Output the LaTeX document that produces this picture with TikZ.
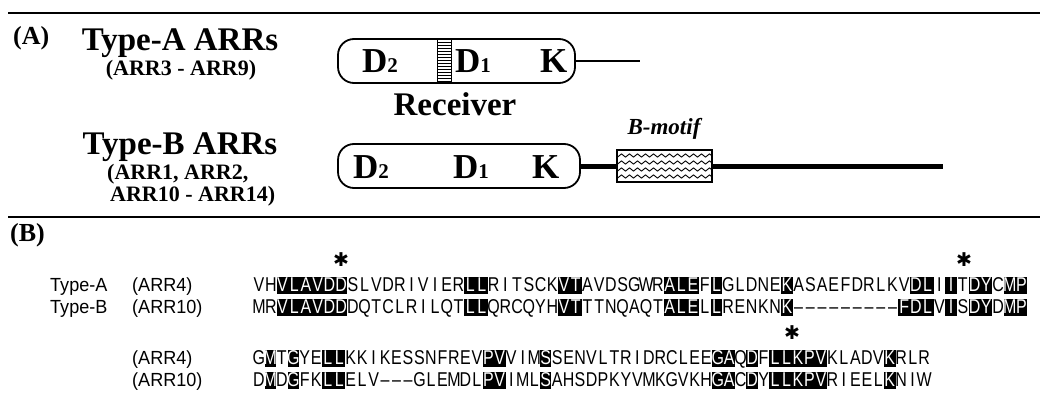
\documentclass[tikz,border=0pt]{standalone}
\usepackage{fontspec}
\setmainfont{Liberation Serif}
\newfontfamily\seqfont{Liberation Sans}[FakeStretch=0.8]
\newfontfamily\labfont{Liberation Sans}[FakeStretch=0.95]
\newfontfamily\symfont{DejaVu Sans}
\usetikzlibrary{patterns,decorations.pathmorphing}

\newlength\cw
\setlength\cw{11.7pt}
\newcommand\sstrut{\rule[-3pt]{0pt}{16pt}}
\def\seqloop#1{\ifx#1\relax\else\makebox[\cw][c]{\sstrut#1}\expandafter\seqloop\fi}
\newcommand\sq[1]{\seqloop#1\relax}
\newcommand\hl[1]{{\fboxsep=0pt\colorbox{black}{\color{white}\sq{#1}}}}
\newcommand\subd[1]{{\fontsize{21}{21}\selectfont #1}}

\begin{document}
\begin{tikzpicture}[x=1pt,y=-1pt,
  lab/.style={font=\bfseries\fontsize{33}{36}\selectfont, inner sep=0pt, anchor=base},
  sublab/.style={font=\bfseries\fontsize{22}{24}\selectfont, inner sep=0pt, anchor=base west},
  panel/.style={font=\bfseries\fontsize{26}{28}\selectfont, inner sep=0pt, anchor=base west},
  pill/.style={draw, line width=1.8pt, rounded corners=16pt, inner sep=0pt, minimum height=44pt},
  dom/.style={font=\bfseries\fontsize{35}{36}\selectfont, inner sep=0pt, anchor=base west},
  seqrow/.style={font=\seqfont\fontsize{20}{22}\selectfont, inner sep=0pt, anchor=base west},
  seqlab/.style={font=\labfont\fontsize{19}{22}\selectfont, inner sep=0pt, anchor=base west},
  star/.style={font=\symfont\fontsize{19}{19}\selectfont, inner sep=0pt},
  rule/.style={line width=1.8pt},
]
\fill[white] (0,0) rectangle (1047,412);
\useasboundingbox (0,0) rectangle (1047,412);

% horizontal rules
\draw[rule] (8,13) -- (1040,13);
\draw[rule] (8,217) -- (1040,217);

% panel labels
\node[panel] (pA) at (13,45) {(A)};
\node[panel] (pB) at (10,241) {(B)};

% Part A labels
\node[lab] (tA) at (180,51) {Type-A ARRs};
\node[sublab, anchor=base] (tAsub) at (181,76) {(ARR3 - ARR9)};
\node[lab] (tB) at (180,154) {Type-B ARRs};
\node[sublab] (tBs1) at (107,179) {(ARR1, ARR2,};
\node[sublab] (tBs2) at (110,201) {ARR10 - ARR14)};
\node[lab] (rec) at (455,115) {Receiver};
\node[font=\bfseries\itshape\fontsize{23}{24}\selectfont, inner sep=0pt, anchor=base] (bm) at (664,134) {B-motif};

% Type-A protein
\node[pill, minimum width=237pt] (boxA) at (456.5,61) {};
\node[draw, line width=1.4pt, pattern=horizontal lines, minimum width=14pt, minimum height=44pt, inner sep=0pt] (hatch) at (444.5,61) {};
\node[dom] (a2) at (362,73) {D\subd{2}};
\node[dom] (a1) at (455,73) {D\subd{1}};
\node[dom] (aK) at (540,73) {K};
\coordinate (tailA) at (640,61);
\draw[line width=1.1pt] (boxA.east) -- (tailA);

% Type-B protein
\node[pill, minimum width=242pt] (boxB) at (459,166) {};
\node[dom] (b2) at (353,178) {D\subd{2}};
\node[dom] (b1) at (453,178) {D\subd{1}};
\node[dom] (bK) at (532,178) {K};
\node[draw, line width=1.8pt, minimum width=95pt, minimum height=32pt, inner sep=0pt,
  path picture={
    \foreach \dy in {-10.5,-3.5,3.5,10.5}
      \draw[line width=0.9pt, decorate, decoration={snake, amplitude=1.6pt, segment length=8pt}]
        ([xshift=-6pt,yshift=\dy]path picture bounding box.west) -- ([xshift=6pt,yshift=\dy]path picture bounding box.east);
  }] (motif) at (664.5,166) {};
\coordinate (tailB) at (943,166);
\draw[line width=5pt] (boxB.east) -- (motif.west);
\draw[line width=5pt] (motif.east) -- (tailB);

% Part B alignment labels
\node[seqlab] (lA) at (50,291) {Type-A};
\node[seqlab] (lA4) at (132,291) {(ARR4)};
\node[seqlab] (lB) at (50,313) {Type-B};
\node[seqlab] (lB10) at (132,313) {(ARR10)};
\node[seqlab] (lA4b) at (132,364) {(ARR4)};
\node[seqlab] (lB10b) at (132,386) {(ARR10)};

% sequences block 1
\node[seqrow] (r1) at (253,291) {\setlength\cw{11.73pt}\sq{VH}\hl{VLAVDD}\sq{SLVDRIVIER}\hl{LL}\sq{RITSCK}\hl{VT}\sq{AVDSGWR}\hl{ALE}\sq{F}\hl{L}\sq{GLDNE}\hl{K}\sq{ASAEFDRLKV}\hl{DL}\sq{I}\hl{I}\sq{T}\hl{DY}\sq{C}\hl{MP}};
\node[seqrow] (r2) at (253,313) {\setlength\cw{11.73pt}\sq{MR}\hl{VLAVDD}\sq{DQTCLRILQT}\hl{LL}\sq{QRCQYH}\hl{VT}\sq{TTNQAQT}\hl{ALE}\sq{L}\hl{L}\sq{RENKN}\hl{K}\sq{–––––––––}\hl{FDL}\sq{V}\hl{I}\sq{S}\hl{DY}\sq{D}\hl{MP}};

% sequences block 2
\node[seqrow] (r3) at (253,364) {\setlength\cw{11.47pt}\sq{G}\hl{M}\sq{T}\hl{G}\sq{YE}\hl{LL}\sq{KKIKESSNFREV}\hl{PV}\sq{VIM}\hl{S}\sq{SENVLTRIDRCLEE}\hl{GA}\sq{Q}\hl{D}\sq{F}\hl{LLKPV}\sq{KLADV}\hl{K}\sq{RLR}};
\node[seqrow] (r4) at (253,386) {\setlength\cw{11.47pt}\sq{D}\hl{M}\sq{D}\hl{G}\sq{FK}\hl{LL}\sq{ELV–––GLEMDL}\hl{PV}\sq{IML}\hl{S}\sq{AHSDPKYVMKGVKH}\hl{GA}\sq{C}\hl{D}\sq{Y}\hl{LLKPV}\sq{RIEEL}\hl{K}\sq{NIW}};

% asterisks
\node[star] (s1) at (341,260) {✱};
\node[star] (s2) at (964,260) {✱};
\node[star] (s3) at (792,333) {✱};
\end{tikzpicture}
\end{document}
